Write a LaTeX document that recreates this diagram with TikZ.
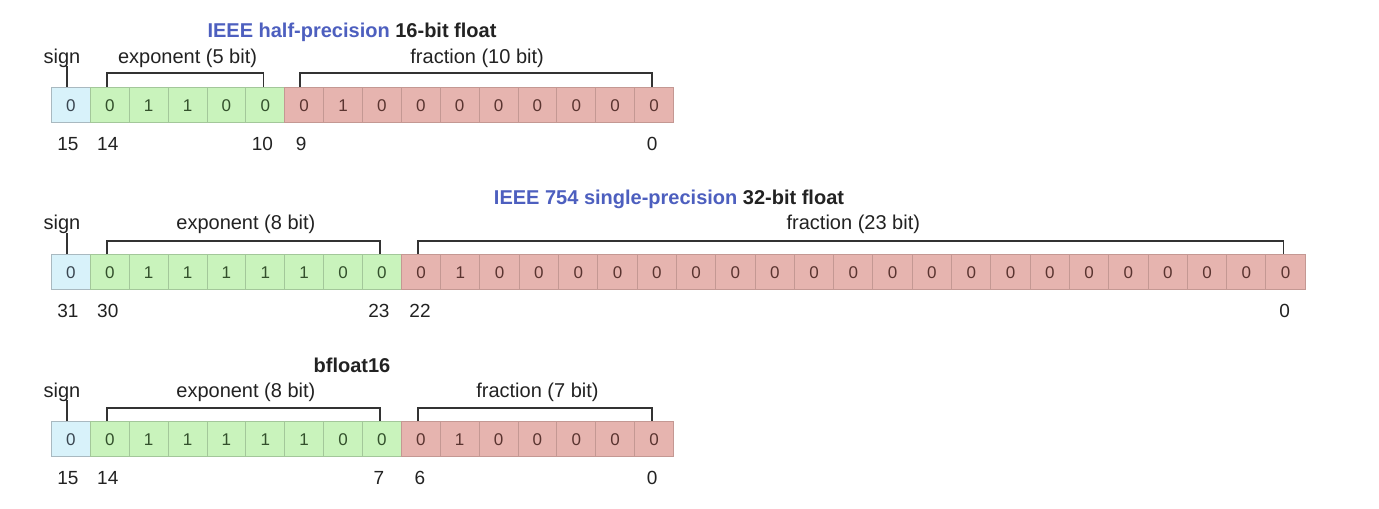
\documentclass[tikz,border=0pt]{standalone}
\usepackage{fontspec}
\setmainfont{Liberation Sans}
\usetikzlibrary{calc}
\definecolor{signfill}{HTML}{D8F2FA}
\definecolor{signdraw}{HTML}{A9B9C0}
\definecolor{signtxt}{HTML}{3A4650}
\definecolor{expfill}{HTML}{C9F3BC}
\definecolor{expdraw}{HTML}{A3C79A}
\definecolor{exptxt}{HTML}{33502C}
\definecolor{fracfill}{HTML}{E6B4AF}
\definecolor{fracdraw}{HTML}{C49893}
\definecolor{fractxt}{HTML}{5A3430}
\definecolor{ttlblue}{HTML}{4D5FBF}
\definecolor{lbltxt}{HTML}{222222}
\definecolor{brkcol}{HTML}{333333}
\begin{document}
\begin{tikzpicture}[x=0.5pt,y=-0.5pt,
  cell/.style={draw, anchor=north west, minimum height=17.5pt, inner sep=0pt,
    font=\fontsize{8.5}{8.5}\selectfont, text height=6.1pt, text depth=0pt, line width=0.5pt},
  sgncell/.style={cell, fill=signfill, draw=signdraw, text=signtxt},
  expcell/.style={cell, fill=expfill, draw=expdraw, text=exptxt},
  fraccell/.style={cell, fill=fracfill, draw=fracdraw, text=fractxt},
  lbl/.style={font=\fontsize{10}{12}\selectfont, text=lbltxt, inner sep=0pt, text height=7.2pt, text depth=0pt},
  idx/.style={font=\fontsize{9.5}{11}\selectfont, text=lbltxt, inner sep=0pt, text height=6.8pt, text depth=0pt},
  ttl/.style={font=\bfseries\fontsize{10}{12}\selectfont, text=lbltxt, inner sep=0pt, text height=7.2pt, text depth=0pt},
  brk/.style={draw=brkcol, line width=0.75pt},
]
\useasboundingbox (0,0) rectangle (1379,508);
\fill[white] (0,0) rectangle (1379,508);

% ---------------- Row 1: half precision ----------------
\def\wa{38.875}
\node[sgncell, minimum width=\wa*0.5pt] (r1c0) at (51,87) {0};
\foreach \b [count=\i from 1] in {0,1,1,0,0}
  \node[expcell, minimum width=\wa*0.5pt] (r1c\i) at (51+\i*\wa,87) {\b};
\foreach \b [count=\i from 6] in {0,1,0,0,0,0,0,0,0,0}
  \node[fraccell, minimum width=\wa*0.5pt] (r1c\i) at (51+\i*\wa,87) {\b};

\node[ttl] (r1t) at (352,30) {{\color{ttlblue}IEEE half-precision} 16-bit float};
\node[lbl] (r1s) at ($(r1c0.north)+(-9,-31)$) {sign};
\draw[brk] ([xshift=-2pt]r1c0.north) -- ++(0,-21);
\draw[brk] ([xshift=-1.5pt]r1c1.north) -- ++(0,-14) -| ([xshift=-1pt]r1c5.north);
\draw[brk] ([xshift=-2pt]r1c6.north) -- ++(0,-14) -| ([xshift=-1pt]r1c15.north);
\node[lbl] (r1e) at ($($(r1c1.north)!0.5!(r1c5.north)$)+(0,-31)$) {exponent (5 bit)};
\node[lbl] (r1f) at ($($(r1c6.north)!0.5!(r1c15.north)$)+(-2,-31)$) {fraction (10 bit)};
\node[idx] (r1i15) at ($(r1c0.center)+(-3,38.5)$) {15};
\node[idx] (r1i14) at ($(r1c1.center)+(-2,38.5)$) {14};
\node[idx] (r1i10) at ($(r1c5.center)+(-3,38.5)$) {10};
\node[idx] (r1i9) at ($(r1c6.center)+(-3,38.5)$) {9};
\node[idx] (r1i0) at ($(r1c15.center)+(-2,38.5)$) {0};

% ---------------- Row 2: single precision ----------------
\def\wb{39.3}
\node[sgncell, minimum width=\wa*0.5pt] (r2c0) at (51,254) {0};
\foreach \b [count=\i from 1] in {0,1,1,1,1,1,0,0}
  \node[expcell, minimum width=\wa*0.5pt] (r2c\i) at (51+\i*\wa,254) {\b};
\foreach \b [count=\i from 9] in {0,1,0,0,0,0,0,0,0,0,0,0,0,0,0,0,0,0,0,0,0,0,0}
  \node[fraccell, minimum width=\wb*0.5pt] (r2c\i) at (51+9*\wa+\i*\wb-9*\wb,254) {\b};

\node[ttl] (r2t) at (669,197) {{\color{ttlblue}IEEE 754 single-precision} 32-bit float};
\node[lbl] (r2s) at ($(r2c0.north)+(-9,-32)$) {sign};
\draw[brk] ([xshift=-2pt]r2c0.north) -- ++(0,-21);
\draw[brk] ([xshift=-1.5pt]r2c1.north) -- ++(0,-13) -| ([xshift=-1pt]r2c8.north);
\draw[brk] ([xshift=-1.5pt]r2c9.north) -- ++(0,-13) -| ([xshift=-1pt]r2c31.north);
\node[lbl] (r2e) at ($($(r2c1.north)!0.5!(r2c8.north)$)+(0,-32)$) {exponent (8 bit)};
\node[lbl] (r2f) at ($($(r2c9.north)!0.5!(r2c31.north)$)+(0,-32)$) {fraction (23 bit)};
\node[idx] (r2i31) at ($(r2c0.center)+(-3,38.5)$) {31};
\node[idx] (r2i30) at ($(r2c1.center)+(-2,38.5)$) {30};
\node[idx] (r2i23) at ($(r2c8.center)+(-3,38.5)$) {23};
\node[idx] (r2i22) at ($(r2c9.center)+(-1,38.5)$) {22};
\node[idx] (r2i0) at ($(r2c31.center)+(-1,38.5)$) {0};

% ---------------- Row 3: bfloat16 ----------------
\node[sgncell, minimum width=\wa*0.5pt] (r3c0) at (51,421) {0};
\foreach \b [count=\i from 1] in {0,1,1,1,1,1,0,0}
  \node[expcell, minimum width=\wa*0.5pt] (r3c\i) at (51+\i*\wa,421) {\b};
\foreach \b [count=\i from 9] in {0,1,0,0,0,0,0}
  \node[fraccell, minimum width=\wa*0.5pt] (r3c\i) at (51+\i*\wa,421) {\b};

\node[ttl] (r3t) at (352,365) {bfloat16};
\node[lbl] (r3s) at ($(r3c0.north)+(-9,-31)$) {sign};
\draw[brk] ([xshift=-2pt]r3c0.north) -- ++(0,-21);
\draw[brk] ([xshift=-1.5pt]r3c1.north) -- ++(0,-13) -| ([xshift=-1pt]r3c8.north);
\draw[brk] ([xshift=-1.5pt]r3c9.north) -- ++(0,-13) -| ([xshift=-1pt]r3c15.north);
\node[lbl] (r3e) at ($($(r3c1.north)!0.5!(r3c8.north)$)+(0,-31)$) {exponent (8 bit)};
\node[lbl] (r3f) at ($($(r3c9.north)!0.5!(r3c15.north)$)+(0,-31)$) {fraction (7 bit)};
\node[idx] (r3i15) at ($(r3c0.center)+(-3,38.5)$) {15};
\node[idx] (r3i14) at ($(r3c1.center)+(-2,38.5)$) {14};
\node[idx] (r3i7) at ($(r3c8.center)+(-3,38.5)$) {7};
\node[idx] (r3i6) at ($(r3c9.center)+(-1,38.5)$) {6};
\node[idx] (r3i0) at ($(r3c15.center)+(-2,38.5)$) {0};
\end{tikzpicture}
\end{document}
